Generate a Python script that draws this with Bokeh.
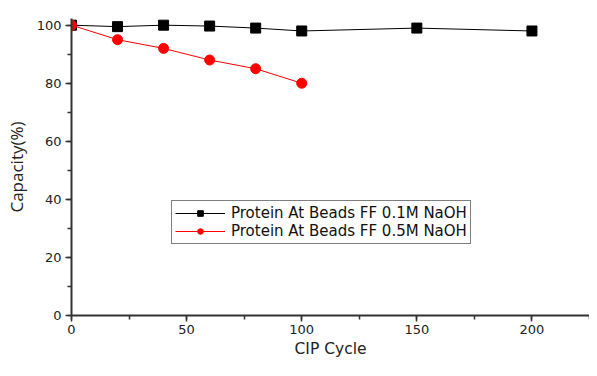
from bokeh.plotting import figure
from bokeh.models import Range1d, Legend, LegendItem, SingleIntervalTicker
from bokeh.embed import file_html
from bokeh.resources import INLINE

cycles_a = [0, 20, 40, 60, 80, 100, 150, 200]
capacity_a = [100, 99.5, 100, 99.7, 99, 98, 99, 98]
cycles_b = [0, 20, 40, 60, 80, 100]
capacity_b = [100, 95, 92, 88, 85, 80]
label_a = "Protein At Beads FF 0.1M NaOH"
label_b = "Protein At Beads FF 0.5M NaOH"

p = figure(width=589, height=360, output_backend="svg", toolbar_location=None,
           x_range=Range1d(0, 225), y_range=Range1d(0, 102.3),
           min_border_left=71, min_border_right=0, min_border_top=18, min_border_bottom=44)
p.grid.visible = False
p.outline_line_color = None

la = p.line(cycles_a, capacity_a, line_color="black", line_width=1)
sa = p.scatter(cycles_a, capacity_a, marker="square", size=10, fill_color="black", line_color="black")
lb = p.line(cycles_b, capacity_b, line_color="red", line_width=1)
sb = p.scatter(cycles_b, capacity_b, marker="circle", size=10, fill_color="red", line_color="red")

p.xaxis.ticker = SingleIntervalTicker(interval=50, num_minor_ticks=2)
p.yaxis.ticker = SingleIntervalTicker(interval=20, num_minor_ticks=2)
for ax in (p.xaxis, p.yaxis):
    ax.axis_line_width = 2
    ax.axis_line_color = "#333333"
    ax.major_tick_line_color = "#333333"
    ax.minor_tick_line_color = "#333333"
    ax.major_tick_line_width = 1.5
    ax.minor_tick_line_width = 1.5
    ax.major_tick_out = 6
    ax.major_tick_in = 0
    ax.minor_tick_out = 4
    ax.minor_tick_in = 0
    ax.major_label_text_font = "DejaVu Sans"
    ax.major_label_text_font_size = "13px"
    ax.major_label_text_color = "#222222"
    ax.axis_label_text_font_style = "normal"
    ax.axis_label_text_color = "#222222"

p.xaxis.axis_label = "CIP Cycle"
p.xaxis.axis_label_text_font = "DejaVu Sans"
p.xaxis.axis_label_text_font_size = "15.5px"
p.xaxis.axis_label_standoff = 3
p.xaxis.major_label_standoff = 3
p.yaxis.axis_label = "Capacity(%)"
p.yaxis.axis_label_text_font = "Open Sans"
p.yaxis.axis_label_text_font_size = "17px"
p.yaxis.axis_label_standoff = 6
p.yaxis.major_label_standoff = 4

legend = Legend(items=[LegendItem(label=label_a, renderers=[la, sa]),
                       LegendItem(label=label_b, renderers=[lb, sb])],
                location=(100, 71))
legend.label_text_font = "DejaVu Sans"
legend.label_text_font_size = "15px"
legend.label_text_color = "#111111"
legend.border_line_color = "black"
legend.border_line_width = 1
legend.glyph_width = 50
legend.glyph_height = 14
legend.label_height = 15
legend.spacing = 0
legend.padding = 3
legend.margin = 0
legend.label_standoff = 6
p.add_layout(legend, "center")

open("out.html", "w").write(file_html(p, INLINE))
